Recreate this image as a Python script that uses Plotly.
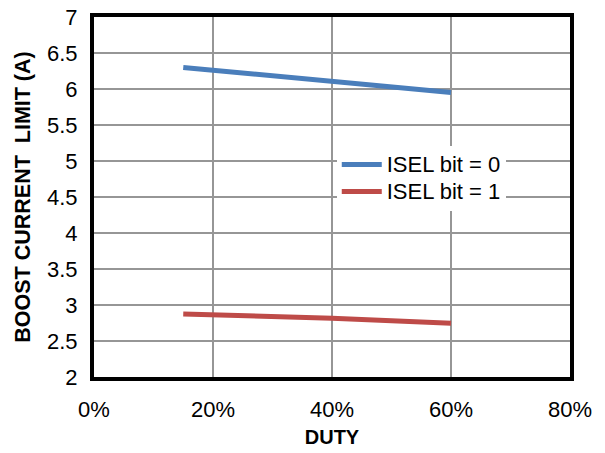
import plotly.graph_objects as go

duty = [0.15, 0.40, 0.60]
isel0 = [6.30, 6.10, 5.95]
isel1 = [2.875, 2.815, 2.745]

x_ticks = [0, 0.2, 0.4, 0.6, 0.8]
x_labels = ["0%", "20%", "40%", "60%", "80%"]
y_ticks = [2, 2.5, 3, 3.5, 4, 4.5, 5, 5.5, 6, 6.5, 7]
y_labels = ["2", "2.5", "3", "3.5", "4", "4.5", "5", "5.5", "6", "6.5", "7"]
series_names = ["ISEL bit = 0", "ISEL bit = 1"]

font = "Liberation Sans, Arial, sans-serif"

fig = go.Figure()
fig.add_trace(go.Scatter(x=duty, y=isel0, mode="lines",
                         name='<span style="font-size:22px">%s</span>' % series_names[0],
                         line=dict(color="#4A7EBB", width=5)))
fig.add_trace(go.Scatter(x=duty, y=isel1, mode="lines",
                         name='<span style="font-size:22px">%s</span>' % series_names[1],
                         line=dict(color="#BE4B48", width=5)))

fig.update_layout(
    width=605, height=453,
    margin=dict(l=94, r=35, t=17, b=76),
    paper_bgcolor="white", plot_bgcolor="white",
    font=dict(family=font, size=22, color="black"),
    showlegend=True,
    legend=dict(x=0.51, y=0.642, xanchor="left", yanchor="top",
                bgcolor="rgba(255,255,255,1)", borderwidth=0,
                font=dict(family=font, size=18.5, color="black"),
                tracegroupgap=0, itemwidth=40),
    xaxis=dict(range=[0, 0.8], tickvals=x_ticks, ticktext=x_labels,
               showgrid=True, gridcolor="#969696", gridwidth=1.5,
               showline=True, linecolor="black", linewidth=4, mirror=True,
               ticks="", ticklabelstandoff=10, zeroline=False, automargin=False,
               title=dict(text="<b>DUTY</b>", font=dict(family=font, size=20), standoff=10)),
    yaxis=dict(range=[2, 7], tickvals=y_ticks, ticktext=y_labels,
               showgrid=True, gridcolor="#969696", gridwidth=1.5,
               showline=True, linecolor="black", linewidth=4, mirror=True,
               ticks="", ticklabelstandoff=8, zeroline=False, automargin=False,
               title=dict(text="<b>BOOST CURRENT  LIMIT (A)</b>", font=dict(family=font, size=21.5), standoff=11)),
)

fig.write_html("out.html", config={"displayModeBar": False},
               post_script="document.body.style.margin='0';")
